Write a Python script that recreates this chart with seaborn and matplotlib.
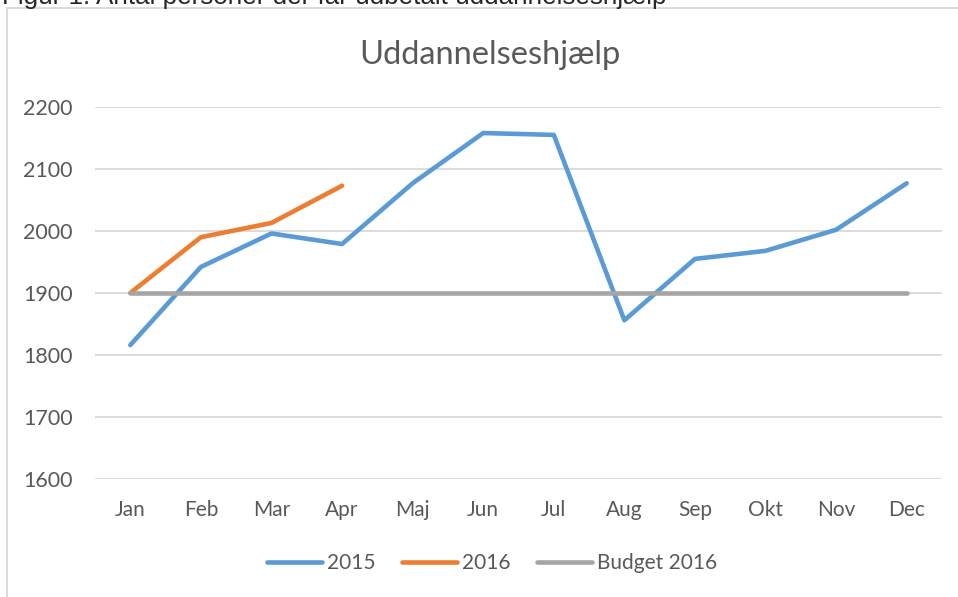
import matplotlib
matplotlib.use("Agg")
import matplotlib.pyplot as plt
import seaborn as sns
import pandas as pd
from matplotlib.patches import Rectangle
from matplotlib.lines import Line2D

months = ["Jan", "Feb", "Mar", "Apr", "Maj", "Jun", "Jul", "Aug", "Sep", "Okt", "Nov", "Dec"]
values_2015 = [1816, 1942, 1996, 1979, 2077, 2158, 2155, 1856, 1955, 1968, 2002, 2077]
values_2016 = [1900, 1990, 2013, 2073]
budget_2016 = [1900] * 12
series_names = ["2015", "2016", "Budget 2016"]
colors = ["#5B9BD5", "#ED7D31", "#A5A5A5"]
yticks = [1600, 1700, 1800, 1900, 2000, 2100, 2200]

rows = []
for m, v in zip(months, values_2015):
    rows.append({"Måned": m, "Antal": v, "Serie": series_names[0]})
for m, v in zip(months, values_2016):
    rows.append({"Måned": m, "Antal": v, "Serie": series_names[1]})
for m, v in zip(months, budget_2016):
    rows.append({"Måned": m, "Antal": v, "Serie": series_names[2]})
df = pd.DataFrame(rows)
df["Måned"] = pd.Categorical(df["Måned"], categories=months, ordered=True)
df["pos"] = df["Måned"].cat.codes

sns.set_theme(style="white")
plt.rcParams["font.family"] = ["Lato", "DejaVu Sans"]
text_color = "#595959"
grid_color = "#D9D9D9"

W, H = 958, 597
fig = plt.figure(figsize=(W / 100, H / 100), dpi=100)
ax = fig.add_axes([95 / W, 1 - 479 / H, (942 - 95) / W, (479 - 107) / H])

# Outer chart frame (partially cropped)
fig.patches.append(Rectangle((7 / W, -0.2), 1.2, 1.2 - 8 / H, transform=fig.transFigure,
                             fill=False, edgecolor=grid_color, linewidth=1.3, zorder=0))

# Cropped caption at top
fig.text(2 / W, 1 - 4 / H, "Figur 1: Antal personer der får udbetalt uddannelseshjælp",
         ha="left", va="baseline", fontsize=18.7, color="#262626",
         family=["Liberation Sans", "DejaVu Sans"])

for yv in yticks:
    ax.axhline(yv, color=grid_color, linewidth=1.3, zorder=0)

sns.lineplot(data=df, x="pos", y="Antal", hue="Serie", hue_order=series_names,
             palette=colors, linewidth=3.3, ax=ax, legend=False, sort=False,
             estimator=None)
for line in ax.get_lines():
    line.set_solid_capstyle("round")
    line.set_solid_joinstyle("round")

ax.set_xlim(-0.5, 11.5)
ax.set_ylim(1600, 2200)
ax.set_xticks(range(len(months)))
ax.set_xticklabels(months)
ax.set_yticks(yticks)
ax.set_yticklabels([str(v) for v in yticks])
ax.tick_params(axis="x", length=0, pad=15, labelsize=15, labelcolor=text_color)
ax.tick_params(axis="y", length=0, pad=16, labelsize=15.5, labelcolor=text_color)
ax.set_xlabel("")
ax.set_ylabel("")
for s in ax.spines.values():
    s.set_visible(False)
ax.set_facecolor("none")

fig.text(490 / W, 1 - 55 / H, "Uddannelseshjælp", ha="center", va="center",
         fontsize=23.5, color=text_color)

handles = [Line2D([0], [0], color=c, linewidth=3.3, solid_capstyle="round") for c in colors]
fig.legend(handles, series_names, loc="center", bbox_to_anchor=(492 / W, 1 - 563 / H),
           ncol=3, frameon=False, fontsize=15, handlelength=2.65, handletextpad=0.25,
           columnspacing=1.25, labelcolor=text_color)

fig.savefig("out.png", dpi=100)
